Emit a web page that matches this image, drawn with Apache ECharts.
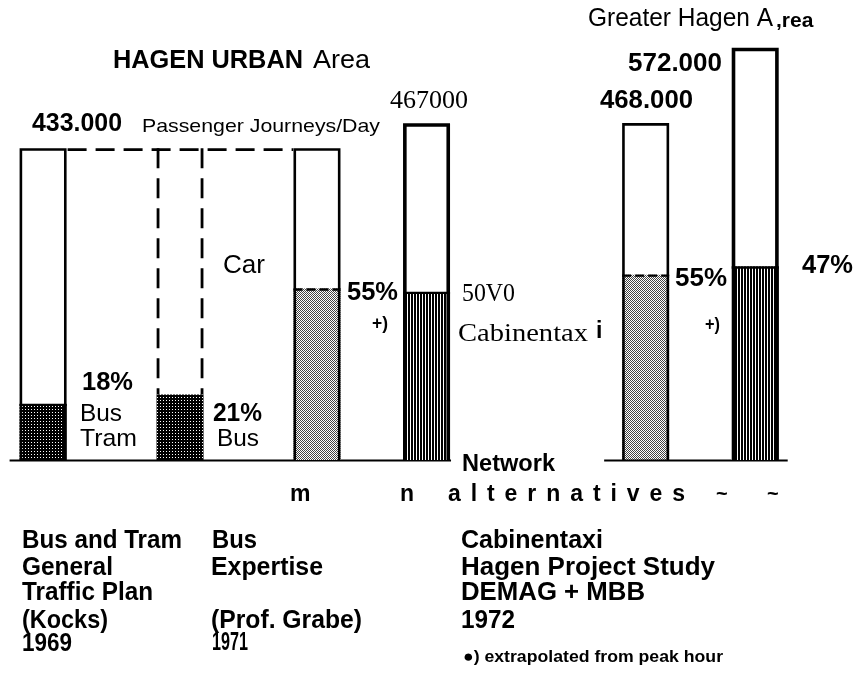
<!DOCTYPE html>
<html>
<head>
<meta charset="utf-8">
<title>Hagen passenger journeys per day</title>
<script src="https://cdn.jsdelivr.net/npm/echarts@6/dist/echarts.min.js"></script>
<style>
  html, body { margin: 0; padding: 0; background: #fff; }
  #chart { width: 856px; height: 674px; }
</style>
</head>
<body>
<div id="chart"></div>
<script>
// ---- data ---------------------------------------------------------------
// Passenger journeys per day and public-transport share for each study
const studies = [
  'General Traffic Plan 1969',
  'Bus Expertise 1971',
  'Cabinentaxi network m',
  'Cabinentaxi network n',
  'Greater Hagen alternative 1',
  'Greater Hagen alternative 2'
];
const totalJourneys = [433000, 433000, 433000, 467000, 468000, 572000];
const transitShare = [18, 21, 55, 50, 55, 47];
const totalLabels = ['433.000', '467000', '468.000', '572.000'];
const shareLabels = ['18%', '21%', '55%', '50V0', '55%', '47%'];

// ---- layout -------------------------------------------------------------
const SLOT_COUNT = 27;
const barSlot = [0, 5, 10, 14, 22, 26];     // category slot of every bar
const barGroup = [0, 0, 0, 0, 1, 1];        // urban area / greater area
const BAR_W = 47;
const SANS = '"Liberation Sans", Arial, Helvetica, sans-serif';
const SERIF = '"Liberation Serif", "Times New Roman", serif';

// fill patterns
function makePattern(w, h, draw) {
  const c = document.createElement('canvas');
  c.width = w; c.height = h;
  draw(c.getContext('2d'));
  return { image: c, repeat: 'repeat' };
}
const fills = {
  dots: makePattern(3, 3, g => {
    g.fillStyle = '#000'; g.fillRect(0, 0, 3, 3);
    g.fillStyle = '#fff'; g.fillRect(1, 1, 1, 1);
  }),
  stipple: makePattern(2, 2, g => {
    g.fillStyle = '#fff'; g.fillRect(0, 0, 2, 2);
    g.fillStyle = '#444';
    g.fillRect(0, 0, 1, 1); g.fillRect(1, 1, 1, 1);
  }),
  hatch: makePattern(3, 1, g => {
    g.fillStyle = '#fff'; g.fillRect(0, 0, 3, 1);
    g.fillStyle = '#000'; g.fillRect(0, 0, 2, 1);
  })
};
const barLook = [
  { fill: 'dots',    outline: 'solid',  split: 'solid',  side: 2.6 },
  { fill: 'dots',    outline: 'dashed', split: 'none',   side: 2.6 },
  { fill: 'stipple', outline: 'solid',  split: 'dashed', side: 2.6 },
  { fill: 'hatch',   outline: 'solid',  split: 'solid',  side: 3.6 },
  { fill: 'stipple', outline: 'solid',  split: 'dashed', side: 2.6 },
  { fill: 'hatch',   outline: 'solid',  split: 'solid',  side: 3.6 }
];

const slotNames = Array.from({ length: SLOT_COUNT }, (_, k) => 'slot' + k);
barSlot.forEach((s, i) => { slotNames[s] = studies[i]; });

const barData = totalJourneys.map((t, i) => [barSlot[i], t, t * transitShare[i] / 100, i]);

function seg(x1, y1, x2, y2, lw, dash) {
  return {
    type: 'line',
    shape: { x1, y1, x2, y2 },
    style: { stroke: '#000', lineWidth: lw, lineDash: dash || null, lineCap: 'butt' }
  };
}

function renderBar(params, api) {
  const i = api.value(3);
  const slot = api.value(0);
  const look = barLook[i];
  const topP = api.coord([slot, api.value(1)]);
  const midP = api.coord([slot, api.value(2)]);
  const baseP = api.coord([slot, 0]);
  const cx = topP[0], yT = topP[1], yM = midP[1], yB = baseP[1];
  const x0 = cx - BAR_W / 2, x1 = cx + BAR_W / 2;
  const lw = look.side;
  const kids = [];

  if (look.outline === 'solid') {
    kids.push({ type: 'rect', shape: { x: x0, y: yT, width: BAR_W, height: yB - yT }, style: { fill: '#fff' } });
  }
  kids.push({ type: 'rect', shape: { x: x0, y: yM, width: BAR_W, height: yB - yM }, style: { fill: fills[look.fill] } });

  if (look.outline === 'solid') {
    kids.push({
      type: 'polyline',
      shape: { points: [[x0 + lw / 2, yB], [x0 + lw / 2, yT + 1.3], [x1 - lw / 2, yT + 1.3], [x1 - lw / 2, yB]] },
      style: { stroke: '#000', lineWidth: lw, fill: null, lineJoin: 'miter' }
    });
  } else {
    // dashed outline of the hypothetical bar, joined to its neighbours at the total height
    kids.push(seg(x0 + 1.5, yT, x0 + 1.5, yM, 2.8, [20, 10]));
    kids.push(seg(x1 - 1.5, yT, x1 - 1.5, yM, 2.8, [20, 10]));
    const prevX = api.coord([barSlot[i - 1], api.value(1)])[0] + BAR_W / 2;
    const nextX = api.coord([barSlot[i + 1], api.value(1)])[0] - BAR_W / 2;
    kids.push(seg(prevX + 1, yT + 1.3, nextX, yT + 1.3, 2.8, [19, 9]));
  }

  if (look.split === 'solid') {
    kids.push(seg(x0, yM + 1, x1, yM + 1, 2.4));
  } else if (look.split === 'dashed') {
    kids.push(seg(x0, yM + 1, x1, yM + 1, 2.4, [9, 4]));
  }

  // ground line under each group of bars
  const g = barGroup[i];
  if (i === barGroup.indexOf(g)) {
    const last = barGroup.lastIndexOf(g);
    const lastX = api.coord([barSlot[last], 0])[0] + BAR_W / 2;
    const startX = x0 - (g === 0 ? 10 : 18);
    const endX = lastX + (g === 0 ? 1 : 9);
    kids.push(seg(startX, yB + 0.5, endX, yB + 0.5, 2));
  }
  return { type: 'group', children: kids };
}

// ---- text helper --------------------------------------------------------
const measureCtx = document.createElement('canvas').getContext('2d');
function txt(text, x, baseline, size, opt) {
  opt = opt || {};
  const family = opt.serif ? SERIF : SANS;
  const font = (opt.bold ? 'bold ' : '') + size + 'px ' + family;
  let sx = 1;
  if (opt.w) {
    measureCtx.font = font;
    sx = opt.w / measureCtx.measureText(text).width;
  }
  if (opt.sx) sx = opt.sx;
  return {
    type: 'text',
    x: x,
    y: baseline - (opt.serif ? 0.338 : 0.3465) * size,
    scaleX: sx,
    silent: true,
    style: {
      text: text,
      font: font,
      fill: '#000',
      textAlign: 'left',
      textVerticalAlign: 'middle'
    }
  };
}

// letter-spaced word laid out glyph by glyph between two x positions
function spaced(word, xStart, xEnd, baseline, size) {
  const font = 'bold ' + size + 'px ' + SANS;
  measureCtx.font = font;
  const widths = word.split('').map(ch => measureCtx.measureText(ch).width);
  const sum = widths.reduce((a, b) => a + b, 0);
  const gap = (xEnd - xStart - sum) / (word.length - 1);
  const out = [];
  let x = xStart;
  word.split('').forEach((ch, k) => {
    out.push(txt(ch, x, baseline, size, { bold: true }));
    x += widths[k] + gap;
  });
  return out;
}

const texts = [
  // headings
  txt('HAGEN URBAN', 113, 70, 25, { bold: true, w: 190 }),
  txt('Area', 313, 70, 25, { w: 57 }),
  txt('Greater Hagen A', 588, 28, 25, { w: 185 }),
  txt(',rea', 776, 28, 21, { bold: true }),
  // totals
  txt(totalLabels[0], 32, 133, 25, { bold: true, w: 90 }),
  txt('Passenger Journeys/Day', 142, 133, 19, { w: 238 }),
  txt(totalLabels[1], 390, 110, 26, { serif: true, w: 78 }),
  txt(totalLabels[2], 600, 110, 25, { bold: true, w: 93 }),
  txt(totalLabels[3], 628, 73, 25, { bold: true, w: 94 }),
  // shares and modes
  txt('Car', 223, 275, 25, { w: 42 }),
  txt(shareLabels[0], 82, 392, 25, { bold: true, w: 51 }),
  txt('Bus', 80, 423, 24, { w: 42 }),
  txt('Tram', 80, 448, 24, { w: 57 }),
  txt(shareLabels[1], 213, 423, 25, { bold: true, w: 49 }),
  txt('Bus', 217, 448, 24, { w: 42 }),
  txt(shareLabels[2], 347, 302, 25, { bold: true, w: 51 }),
  txt('+)', 372, 330, 19, { bold: true, w: 16 }),
  txt(shareLabels[3], 462, 303, 25, { serif: true, w: 53 }),
  txt('Cabinentax', 458, 343, 26, { serif: true, w: 130 }),
  txt('i', 596, 340, 23, { bold: true }),
  txt(shareLabels[4], 675, 288, 25, { bold: true, w: 52 }),
  txt('+)', 705, 331, 19, { bold: true, w: 15 }),
  txt(shareLabels[5], 802, 275, 25, { bold: true, w: 51 }),
  txt('Network', 462, 473, 23, { bold: true, w: 93 }),
  // alternatives row
  txt('m', 290, 503, 23, { bold: true }),
  txt('n', 400, 503, 23, { bold: true }),
  ...spaced('alternatives', 448, 685, 503, 23),
  txt('~', 716, 501, 20, { bold: true }),
  txt('~', 767, 501, 20, { bold: true }),
  // study notes
  txt('Bus and Tram', 22, 550, 26, { bold: true, w: 160 }),
  txt('Bus', 212, 550, 26, { bold: true, w: 45 }),
  txt('General', 22, 577, 26, { bold: true, w: 91 }),
  txt('Expertise', 211, 577, 26, { bold: true, w: 112 }),
  txt('Traffic Plan', 22, 602, 26, { bold: true, w: 131 }),
  txt('(Kocks)', 22, 630, 26, { bold: true, w: 86 }),
  txt('(Prof. Grabe)', 211, 630, 26, { bold: true, w: 151 }),
  txt('1969', 22, 653, 25, { bold: true, w: 50 }),
  txt('1971', 212, 652, 25, { bold: true, w: 36 }),
  txt('Cabinentaxi', 461, 550, 26, { bold: true, w: 142 }),
  txt('Hagen Project Study', 461, 577, 26, { bold: true, w: 254 }),
  txt('DEMAG + MBB', 461, 602, 26, { bold: true, w: 184 }),
  txt('1972', 461, 630, 26, { bold: true, w: 54 }),
  txt('\u25CF) extrapolated from peak hour', 463, 663, 17, { bold: true, w: 260 })
];

// ---- chart --------------------------------------------------------------
const chart = echarts.init(document.getElementById('chart'), null, { renderer: 'canvas' });
chart.setOption({
  animation: false,
  backgroundColor: '#ffffff',
  grid: { left: 29.4, right: 87.1, top: 28, bottom: 214 },
  xAxis: {
    type: 'category',
    data: slotNames,
    boundaryGap: true,
    axisLine: { show: false },
    axisTick: { show: false },
    axisLabel: { show: false },
    splitLine: { show: false }
  },
  yAxis: {
    type: 'value',
    min: 0,
    max: 600000,
    show: false,
    splitLine: { show: false }
  },
  series: [{
    type: 'custom',
    name: 'Passenger journeys per day',
    data: barData,
    dimensions: ['slot', 'total', 'transit', 'index'],
    encode: { x: 0, y: [1, 2] },
    renderItem: renderBar,
    clip: false,
    silent: true
  }],
  graphic: { elements: texts }
});
</script>
</body>
</html>
